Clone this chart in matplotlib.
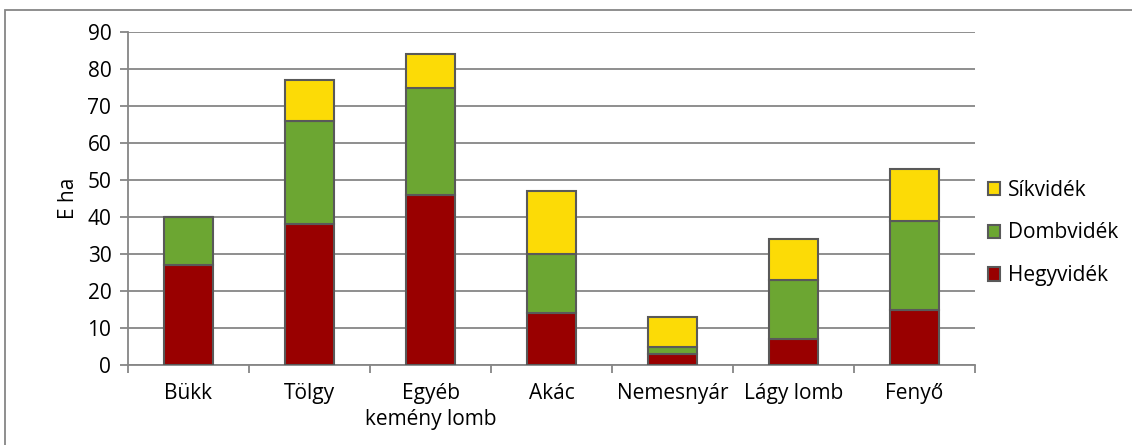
import matplotlib.pyplot as plt
from matplotlib.patches import Rectangle
import numpy as np

categories = ['Bükk', 'Tölgy', 'Egyéb\nkemény lomb', 'Akác', 'Nemesnyár', 'Lágy lomb', 'Fenyő']
hegyvidek = [27, 38, 46, 14, 3, 7, 15]
dombvidek = [13, 28, 29, 16, 2, 16, 24]
sikvidek = [0, 11, 9, 17, 8, 11, 14]

plt.rcParams['font.family'] = ['Open Sans', 'DejaVu Sans']
grid_col = '#868686'
edge_col = '#595959'
fs = 15

fig = plt.figure(figsize=(11.32, 4.45), dpi=100)
ax = fig.add_axes([128 / 1132, 1 - 365 / 445, 847 / 1132, 333 / 445])

x = np.arange(len(categories))
w = 0.4
h = np.array(hegyvidek)
d = np.array(dombvidek)
s = np.array(sikvidek)
kw = dict(width=w, edgecolor=edge_col, linewidth=1.5, zorder=3)
b1 = ax.bar(x, h, color='#990000', label='Hegyvidék', **kw)
b2 = ax.bar(x, d, bottom=h, color='#6CA632', label='Dombvidék', **kw)
b3 = ax.bar(x, s, bottom=h + d, color='#FCDB06', label='Síkvidék', **kw)

ax.set_xlim(-0.5, len(categories) - 0.5)
ax.set_ylim(0, 90)
ax.set_yticks(range(0, 91, 10))
ax.yaxis.grid(True, color=grid_col, linewidth=1.3, zorder=0)
ax.set_axisbelow(True)
for side in ['top', 'right']:
    ax.spines[side].set_visible(False)
ax.spines['left'].set_color(grid_col)
ax.spines['bottom'].set_color(grid_col)
ax.spines['left'].set_linewidth(1.3)
ax.spines['bottom'].set_linewidth(1.3)

ax.set_xticks(x)
ax.set_xticklabels(categories, fontsize=fs, linespacing=1.3)
ax.tick_params(axis='x', length=0, pad=13)
ax.set_xticks(np.arange(-0.5, len(categories)), minor=True)
ax.tick_params(axis='x', which='minor', length=6, width=1.3, color=grid_col, direction='out')
ax.tick_params(axis='y', length=6, width=1.3, color=grid_col, labelsize=fs, pad=6)
ax.set_ylabel('E ha', fontsize=fs, labelpad=6)

handles = [b3, b2, b1]
leg = fig.legend(handles, [hh.get_label() for hh in handles], loc='center left',
                 bbox_to_anchor=(969 / 1132, 1 - 233 / 445), frameon=False,
                 fontsize=fs, handlelength=0.6, handleheight=0.6,
                 handletextpad=0.35, labelspacing=1.05)

fig.patches.append(Rectangle((5 / 1132, -0.1), 1.2, 1 - 10 / 445 + 0.1,
                             transform=fig.transFigure, fill=False,
                             edgecolor=grid_col, linewidth=1.3))

fig.savefig('out.png', dpi=100)
